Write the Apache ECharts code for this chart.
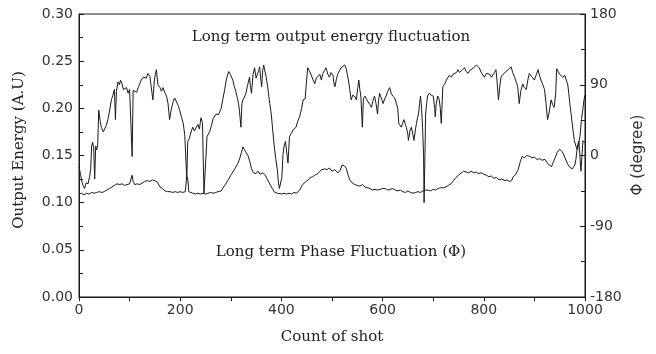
<!DOCTYPE html>
<html>
<head>
<meta charset="utf-8">
<script src="https://cdn.jsdelivr.net/npm/echarts@6/dist/echarts.min.js"></script>
<style>
html,body{margin:0;padding:0;background:#fff;}
#chart{width:656px;height:354px;}
</style>
</head>
<body>
<div id="chart"></div>
<script>
// ---- data ----
var energyShots = [0,3,5,8,11,14,18,21,23,25,27,29,31,33,35,37,39,42,44,48,51,54,57,60,64,67,70,72,74,77,80,82,85,88,90,94,97,100,103,105,107,110,114,117,120,123,127,130,133,136,140,143,146,149,151,153,156,160,163,166,170,173,176,179,182,186,189,192,196,199,203,206,209,211,213,215,218,222,225,228,231,235,238,241,244,247,250,253,258,262,265,268,271,275,278,281,284,288,291,294,296,299,301,304,307,310,312,315,317,320,322,324,327,330,333,337,339,341,344,347,350,352,355,357,359,361,363,365,368,370,372,374,377,380,383,386,389,392,394,396,398,401,403,405,408,410,413,416,420,423,426,429,432,436,440,443,447,449,452,456,459,462,466,469,472,476,479,482,485,488,492,495,498,502,504,506,509,512,515,518,521,525,528,530,533,535,538,541,544,546,548,551,553,555,557,560,562,565,568,571,575,578,581,584,587,590,592,594,598,601,604,607,610,614,617,620,624,627,630,632,635,637,640,642,645,647,650,651,654,657,660,662,665,667,669,671,673,675,677,679,681,682,684,685,687,689,692,696,700,703,704,706,709,712,714,716,719,723,726,729,732,736,739,742,746,749,752,755,758,762,765,769,772,775,780,785,788,791,795,798,801,805,808,812,815,818,821,824,826,829,832,834,838,841,844,848,851,854,857,861,864,867,870,873,877,880,884,887,890,894,897,900,904,907,910,913,916,920,923,926,929,933,936,939,942,944,947,950,953,956,960,963,966,968,970,973,976,979,982,985,988,990,993,996,998,1000];
var energyValues = [0.138,0.130,0.124,0.118,0.115,0.121,0.120,0.128,0.135,0.160,0.164,0.158,0.125,0.160,0.156,0.162,0.198,0.186,0.180,0.175,0.177,0.182,0.188,0.196,0.209,0.214,0.220,0.188,0.218,0.228,0.225,0.230,0.226,0.220,0.218,0.222,0.216,0.220,0.218,0.149,0.219,0.220,0.217,0.222,0.226,0.230,0.233,0.235,0.232,0.237,0.234,0.233,0.209,0.230,0.236,0.241,0.225,0.222,0.218,0.222,0.216,0.213,0.205,0.188,0.198,0.207,0.211,0.209,0.203,0.198,0.190,0.184,0.172,0.170,0.125,0.165,0.168,0.176,0.180,0.176,0.177,0.183,0.178,0.190,0.185,0.110,0.112,0.170,0.175,0.182,0.189,0.190,0.194,0.193,0.196,0.200,0.209,0.220,0.230,0.236,0.239,0.236,0.235,0.230,0.223,0.218,0.213,0.206,0.198,0.180,0.205,0.209,0.212,0.216,0.224,0.233,0.222,0.216,0.236,0.243,0.232,0.230,0.240,0.244,0.232,0.223,0.240,0.246,0.238,0.233,0.226,0.218,0.205,0.194,0.176,0.159,0.146,0.135,0.122,0.115,0.113,0.127,0.150,0.159,0.165,0.163,0.142,0.170,0.174,0.177,0.176,0.180,0.186,0.191,0.200,0.209,0.210,0.225,0.243,0.239,0.237,0.231,0.226,0.232,0.233,0.236,0.230,0.237,0.240,0.243,0.236,0.233,0.238,0.235,0.226,0.223,0.232,0.237,0.240,0.243,0.241,0.246,0.242,0.237,0.228,0.220,0.209,0.214,0.216,0.212,0.209,0.222,0.230,0.220,0.213,0.180,0.210,0.213,0.210,0.207,0.204,0.201,0.208,0.213,0.205,0.194,0.208,0.216,0.210,0.205,0.210,0.213,0.218,0.222,0.216,0.213,0.211,0.209,0.200,0.184,0.186,0.180,0.185,0.188,0.183,0.180,0.172,0.166,0.176,0.180,0.172,0.166,0.178,0.184,0.190,0.194,0.205,0.213,0.200,0.180,0.150,0.100,0.160,0.194,0.205,0.213,0.216,0.214,0.213,0.200,0.191,0.205,0.213,0.209,0.200,0.184,0.223,0.226,0.230,0.232,0.235,0.233,0.236,0.237,0.238,0.241,0.238,0.237,0.241,0.243,0.239,0.237,0.240,0.241,0.243,0.246,0.244,0.243,0.238,0.236,0.233,0.237,0.239,0.236,0.233,0.235,0.238,0.241,0.230,0.209,0.225,0.233,0.236,0.235,0.239,0.241,0.242,0.244,0.238,0.233,0.228,0.223,0.205,0.218,0.226,0.222,0.220,0.230,0.237,0.234,0.232,0.230,0.236,0.241,0.235,0.230,0.226,0.220,0.205,0.188,0.195,0.209,0.204,0.201,0.215,0.242,0.240,0.236,0.238,0.233,0.235,0.230,0.225,0.216,0.205,0.192,0.178,0.166,0.160,0.156,0.158,0.170,0.188,0.200,0.209,0.214];

var phaseShots = [0,5,10,15,20,25,30,35,40,45,50,55,60,65,70,75,80,85,90,95,100,103,105,107,110,115,120,125,130,135,140,145,150,155,160,165,170,175,180,185,190,195,200,205,210,213,215,217,220,225,230,235,240,245,248,250,255,260,265,270,275,281,288,295,301,308,314,318,321,324,328,334,338,341,345,350,354,358,362,367,372,377,382,387,392,400,405,410,415,420,425,430,433,437,441,445,449,453,457,462,466,472,476,480,486,490,495,500,505,512,516,520,524,528,532,535,540,545,550,555,560,565,570,575,580,585,590,595,600,605,610,615,620,625,630,635,640,645,650,655,660,665,670,675,680,685,690,695,700,705,710,715,720,725,730,735,740,745,750,756,760,765,770,775,780,785,789,795,800,805,810,815,820,825,830,835,842,846,850,855,858,862,868,872,876,880,885,890,895,900,905,910,915,921,925,929,934,937,941,945,950,955,960,963,966,970,975,980,982,984,986,988,992,996,1000];
var phaseDegrees = [-49,-48,-50,-48,-49,-47,-48,-47,-46,-47,-46,-44,-42,-40,-38,-36,-37,-36,-38,-37,-36,-35,-25,-33,-37,-36,-37,-35,-33,-32,-33,-31,-32,-34,-40,-42,-45,-46,-46,-47,-46,-47,-46,-47,-46,-27,-30,-46,-48,-48,-49,-48,-49,-48,-47,-49,-48,-47,-48,-47,-46,-45,-38,-31,-24,-17,-10,-3,4,11,6,0,-9,-17,-22,-23,-20,-24,-22,-24,-30,-36,-42,-47,-48,-49,-48,-49,-48,-49,-47,-48,-46,-43,-38,-35,-33,-31,-28,-27,-25,-23,-20,-18,-17,-18,-16,-20,-18,-22,-19,-12,-13,-16,-25,-31,-35,-37,-38,-39,-37,-40,-41,-42,-44,-43,-44,-43,-42,-42,-44,-43,-42,-44,-45,-44,-46,-47,-45,-47,-48,-47,-46,-47,-45,-44,-44,-45,-43,-44,-42,-41,-41,-40,-38,-36,-32,-28,-25,-22,-20,-21,-22,-20,-22,-21,-23,-22,-24,-25,-27,-26,-29,-28,-31,-30,-32,-31,-33,-32,-27,-25,-18,-8,-1,-3,0,-1,-3,-2,-5,-4,-6,-5,-9,-12,-14,-9,-3,4,8,5,-2,-7,-11,-15,-17,-12,-5,6,15,18,-20,19,16,12,15,14];

// ---- build chart ----
var energyData = energyShots.map(function (s, i) { return [s, energyValues[i]]; });
var phaseData = phaseShots.map(function (s, i) { return [s, phaseDegrees[i]]; });

var ink = '#1a1a1a';
var labelFont = { fontFamily: 'DejaVu Sans', fontSize: 14, color: '#333' };

var chart = echarts.init(document.getElementById('chart'), null, { renderer: 'canvas' });
chart.setOption({
  animation: false,
  backgroundColor: '#fff',
  grid: { left: 79, right: 71, top: 14, bottom: 57, show: true, borderColor: ink, borderWidth: 1, backgroundColor: 'transparent' },
  xAxis: {
    type: 'value', min: 0, max: 1000, interval: 200,
    name: 'Count of shot', nameLocation: 'middle', nameGap: 33,
    nameTextStyle: { fontFamily: 'DejaVu Serif', fontSize: 15, color: '#222' },
    axisLine: { show: true, lineStyle: { color: ink, width: 1 } },
    axisTick: { show: true, inside: false, length: 4, lineStyle: { color: ink } },
    minorTick: { show: true, splitNumber: 2, length: 4, lineStyle: { color: ink } },
    axisLabel: Object.assign({ margin: 6, formatter: function (v) { return String(v); } }, labelFont),
    splitLine: { show: false }
  },
  yAxis: [{
    type: 'value', min: 0, max: 0.30, interval: 0.05, position: 'left',
    axisLine: { show: true, onZero: false, lineStyle: { color: ink, width: 1 } },
    axisTick: { show: true, inside: true, length: 5, lineStyle: { color: ink } },
    minorTick: { show: true, splitNumber: 2, length: 4, lineStyle: { color: ink } },
    axisLabel: Object.assign({ margin: 6, formatter: function (v) { return v.toFixed(2); } }, labelFont),
    splitLine: { show: false }
  }, {
    type: 'value', min: -180, max: 180, interval: 90, position: 'right',
    axisLine: { show: true, onZero: false, lineStyle: { color: ink, width: 1 } },
    axisTick: { show: true, inside: true, length: 5, lineStyle: { color: ink } },
    minorTick: { show: true, splitNumber: 2, length: 4, lineStyle: { color: ink } },
    axisLabel: Object.assign({ margin: 5 }, labelFont),
    splitLine: { show: false }
  }],
  graphic: [
    { type: 'text', x: 19, y: 150, rotation: Math.PI / 2,
      style: { text: 'Output Energy (A.U)', fontFamily: 'DejaVu Serif', fontSize: 15, fill: '#222', textAlign: 'center', textVerticalAlign: 'middle' } },
    { type: 'text', x: 638, y: 155, rotation: Math.PI / 2,
      style: { text: 'Φ (degree)', fontFamily: 'DejaVu Sans', fontSize: 15, fill: '#333', textAlign: 'center', textVerticalAlign: 'middle' } },
    { type: 'text', x: 331, y: 37,
      style: { text: 'Long term output energy fluctuation', fontFamily: 'DejaVu Serif', fontSize: 15, fill: '#222', textAlign: 'center', textVerticalAlign: 'middle' } },
    { type: 'text', x: 341, y: 252,
      style: { text: 'Long term Phase Fluctuation (Φ)', fontFamily: 'DejaVu Serif', fontSize: 15, fill: '#222', textAlign: 'center', textVerticalAlign: 'middle' } }
  ],
  series: [{
    type: 'line', name: 'Output energy', yAxisIndex: 0, data: energyData,
    showSymbol: false, symbol: 'none', lineStyle: { color: ink, width: 1 }, silent: true
  }, {
    type: 'line', name: 'Phase', yAxisIndex: 1, data: phaseData,
    showSymbol: false, symbol: 'none', lineStyle: { color: ink, width: 1 }, silent: true
  }]
});
</script>
</body>
</html>
